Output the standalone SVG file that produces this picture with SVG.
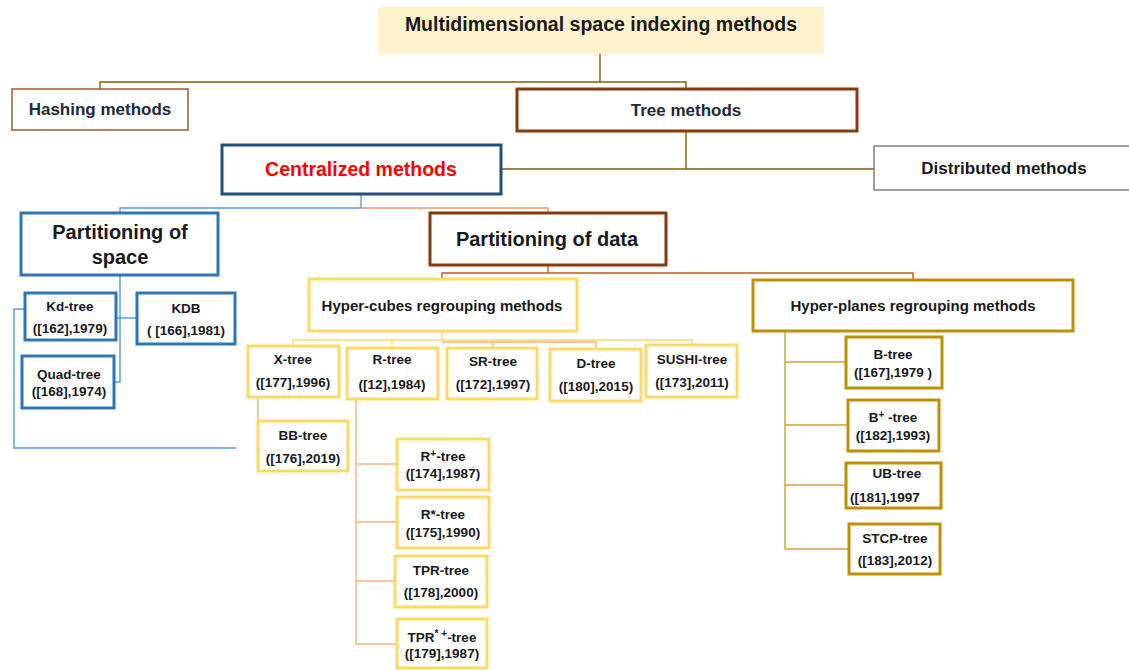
<svg xmlns="http://www.w3.org/2000/svg" width="1129" height="670" viewBox="0 0 1129 670">
  <style>
    text { font-family: "Liberation Sans", Arial, sans-serif; font-weight: bold; text-anchor: middle; dominant-baseline: central; fill: #1a1a1a; }
    .big { font-size: 17px; fill: #222a35; }
    .sm { font-size: 13.5px; }
    .mid { font-size: 15px; }
    .sup { font-size: 10px; }
    .box { fill: #ffffff; }
    .thick { stroke-width: 3; }
    .blue { stroke: #2E75B6; }
    .yel { stroke: #FFD966; }
    .gold { stroke: #BF9000; }
    .brown { stroke: #843C0C; }
    .conn { fill: none; stroke-width: 1.4; }
  </style>

  <!-- connectors -->
  <g id="connectors">
    <!-- root to hashing / tree -->
    <path class="conn" stroke="#7F6000" d="M600 54 V82 M100 89 V82 H686 V89"/>
    <!-- tree to centralized / distributed -->
    <path class="conn" stroke="#7F6000" d="M686 131 V169 M501 169 H874"/>
    <!-- centralized to its two partitions -->
    <path class="conn" stroke="#8497B0" d="M361 194 V208"/>
    <path class="conn" stroke="#5B9BD5" d="M361 208 H120 V213"/>
    <path class="conn" stroke="#E2996A" d="M361 208 H548 V213"/>
    <!-- partitioning of space children -->
    <path class="conn" stroke="#5B9BD5" d="M120 275 V382 H114 M116 318 H137"/>
    <path class="conn" stroke="#5B9BD5" d="M32 309 H14 V448 H236"/>
    <!-- partitioning of data children -->
    <path class="conn" stroke="#C55A11" d="M548 265 V273 M442 279 V273 H913 V280"/>
    <!-- hyper-cubes children -->
    <path class="conn" stroke="#FFD966" d="M442 331 V340 M293 346 V340 H692 V345 M392 340 V348"/>
    <path class="conn" stroke="#F4B183" d="M442 342 H596 V349 M493 342 V348"/>
    <path class="conn" stroke="#F4B183" d="M258 397 V421"/>
    <path class="conn" stroke="#F4B183" d="M356 399 V644 M356 464 H397 M356 522 H397 M356 581 H395 M356 644 H397"/>
    <!-- hyper-planes children -->
    <path class="conn" stroke="#C9A435" d="M785 331 V549 M785 362 H846 M785 425 H848 M785 485 H846 M785 549 H849"/>
  </g>

  <!-- root -->
  <g id="root">
    <rect x="378" y="7" width="446" height="47" fill="#FFF2CC"/>
    <text x="601" y="24" style="font-size:19.5px">Multidimensional space indexing methods</text>
  </g>

  <g id="hashing">
    <rect class="box" x="12" y="89" width="176" height="41" stroke="#9C5B32" stroke-width="1.5"/>
    <text class="big" x="100" y="109">Hashing methods</text>
  </g>

  <g id="tree">
    <rect class="box brown thick" x="517" y="89" width="340" height="42"/>
    <text class="big" x="686" y="110">Tree methods</text>
  </g>

  <g id="centralized">
    <rect class="box thick" x="222" y="145" width="279" height="49" stroke="#1F4E79"/>
    <text x="361" y="169" style="font-size:19.5px;fill:#FF0000">Centralized methods</text>
  </g>

  <g id="distributed">
    <rect class="box" x="874" y="146" width="260" height="44" stroke="#7F7F7F" stroke-width="1.5"/>
    <text class="big" x="1004" y="168" style="fill:#1a1a1a">Distributed methods</text>
  </g>

  <!-- partitioning of space -->
  <g id="part-space">
    <rect class="box blue thick" x="21" y="213" width="197" height="62"/>
    <text x="120" y="232" style="font-size:20px">Partitioning of</text>
    <text x="120" y="257" style="font-size:20px">space</text>
  </g>
  <g id="kd-tree">
    <rect class="box blue thick" x="25" y="293" width="91" height="47"/>
    <text class="sm" x="70" y="306">Kd-tree</text>
    <text class="sm" x="70" y="328">([162],1979)</text>
  </g>
  <g id="kdb">
    <rect class="box blue thick" x="137" y="293" width="98" height="51"/>
    <text class="sm" x="186" y="308">KDB</text>
    <text class="sm" x="186" y="330">( [166],1981)</text>
  </g>
  <g id="quad-tree">
    <rect class="box blue thick" x="22" y="356" width="92" height="52"/>
    <text class="sm" x="69" y="374">Quad-tree</text>
    <text class="sm" x="69" y="391">([168],1974)</text>
  </g>

  <!-- partitioning of data -->
  <g id="part-data">
    <rect class="box brown thick" x="430" y="213" width="236" height="52"/>
    <text x="547" y="239" style="font-size:20px">Partitioning of data</text>
  </g>

  <!-- hyper-cubes branch -->
  <g id="hyper-cubes">
    <rect class="box yel thick" x="309" y="279" width="268" height="52"/>
    <text class="mid" x="442" y="305">Hyper-cubes regrouping methods</text>
  </g>
  <g id="x-tree">
    <rect class="box yel thick" x="248" y="346" width="91" height="51"/>
    <text class="sm" x="293" y="359">X-tree</text>
    <text class="sm" x="293" y="382">([177],1996)</text>
  </g>
  <g id="r-tree">
    <rect class="box yel thick" x="347" y="348" width="91" height="51"/>
    <text class="sm" x="392" y="359">R-tree</text>
    <text class="sm" x="392" y="384">([12],1984)</text>
  </g>
  <g id="sr-tree">
    <rect class="box yel thick" x="447" y="348" width="90" height="51"/>
    <text class="sm" x="493" y="361">SR-tree</text>
    <text class="sm" x="493" y="384">([172],1997)</text>
  </g>
  <g id="d-tree">
    <rect class="box yel thick" x="550" y="349" width="91" height="52"/>
    <text class="sm" x="596" y="363">D-tree</text>
    <text class="sm" x="596" y="386">([180],2015)</text>
  </g>
  <g id="sushi-tree">
    <rect class="box yel thick" x="646" y="345" width="91" height="52"/>
    <text class="sm" x="692" y="359">SUSHI-tree</text>
    <text class="sm" x="692" y="382">([173],2011)</text>
  </g>
  <g id="bb-tree">
    <rect class="box yel thick" x="258" y="421" width="90" height="50"/>
    <text class="sm" x="303" y="435">BB-tree</text>
    <text class="sm" x="303" y="458">([176],2019)</text>
  </g>
  <g id="r-plus-tree">
    <rect class="box yel thick" x="397" y="439" width="92" height="51"/>
    <text class="sm" x="443" y="456">R<tspan class="sup" dy="-3">+</tspan><tspan dy="3">-tree</tspan></text>
    <text class="sm" x="443" y="473">([174],1987)</text>
  </g>
  <g id="r-star-tree">
    <rect class="box yel thick" x="397" y="497" width="92" height="51"/>
    <text class="sm" x="443" y="514">R*-tree</text>
    <text class="sm" x="443" y="532">([175],1990)</text>
  </g>
  <g id="tpr-tree">
    <rect class="box yel thick" x="395" y="556" width="92" height="51"/>
    <text class="sm" x="441" y="570">TPR-tree</text>
    <text class="sm" x="441" y="592">([178],2000)</text>
  </g>
  <g id="tpr-star-tree">
    <rect class="box yel thick" x="397" y="619" width="90" height="49"/>
    <text class="sm" x="442" y="637">TPR<tspan class="sup" dy="-4">* +</tspan><tspan dy="4">-tree</tspan></text>
    <text class="sm" x="442" y="653">([179],1987)</text>
  </g>

  <!-- hyper-planes branch -->
  <g id="hyper-planes">
    <rect class="box gold thick" x="753" y="280" width="320" height="51"/>
    <text class="mid" x="913" y="305">Hyper-planes regrouping methods</text>
  </g>
  <g id="b-tree">
    <rect class="box gold thick" x="846" y="337" width="96" height="51"/>
    <text class="sm" x="893" y="354">B-tree</text>
    <text class="sm" x="893" y="372">([167],1979 )</text>
  </g>
  <g id="b-plus-tree">
    <rect class="box gold thick" x="848" y="400" width="91" height="51"/>
    <text class="sm" x="893" y="417">B<tspan class="sup" dy="-3">+</tspan><tspan dy="3"> -tree</tspan></text>
    <text class="sm" x="893" y="435">([182],1993)</text>
  </g>
  <g id="ub-tree">
    <rect class="box gold thick" x="846" y="463" width="95" height="45"/>
    <text class="sm" x="897" y="473">UB-tree</text>
    <text class="sm" x="850" y="497" style="text-anchor:start">([181],1997</text>
  </g>
  <g id="stcp-tree">
    <rect class="box gold thick" x="849" y="524" width="91" height="50"/>
    <text class="sm" x="895" y="538">STCP-tree</text>
    <text class="sm" x="895" y="560">([183],2012)</text>
  </g>
</svg>
